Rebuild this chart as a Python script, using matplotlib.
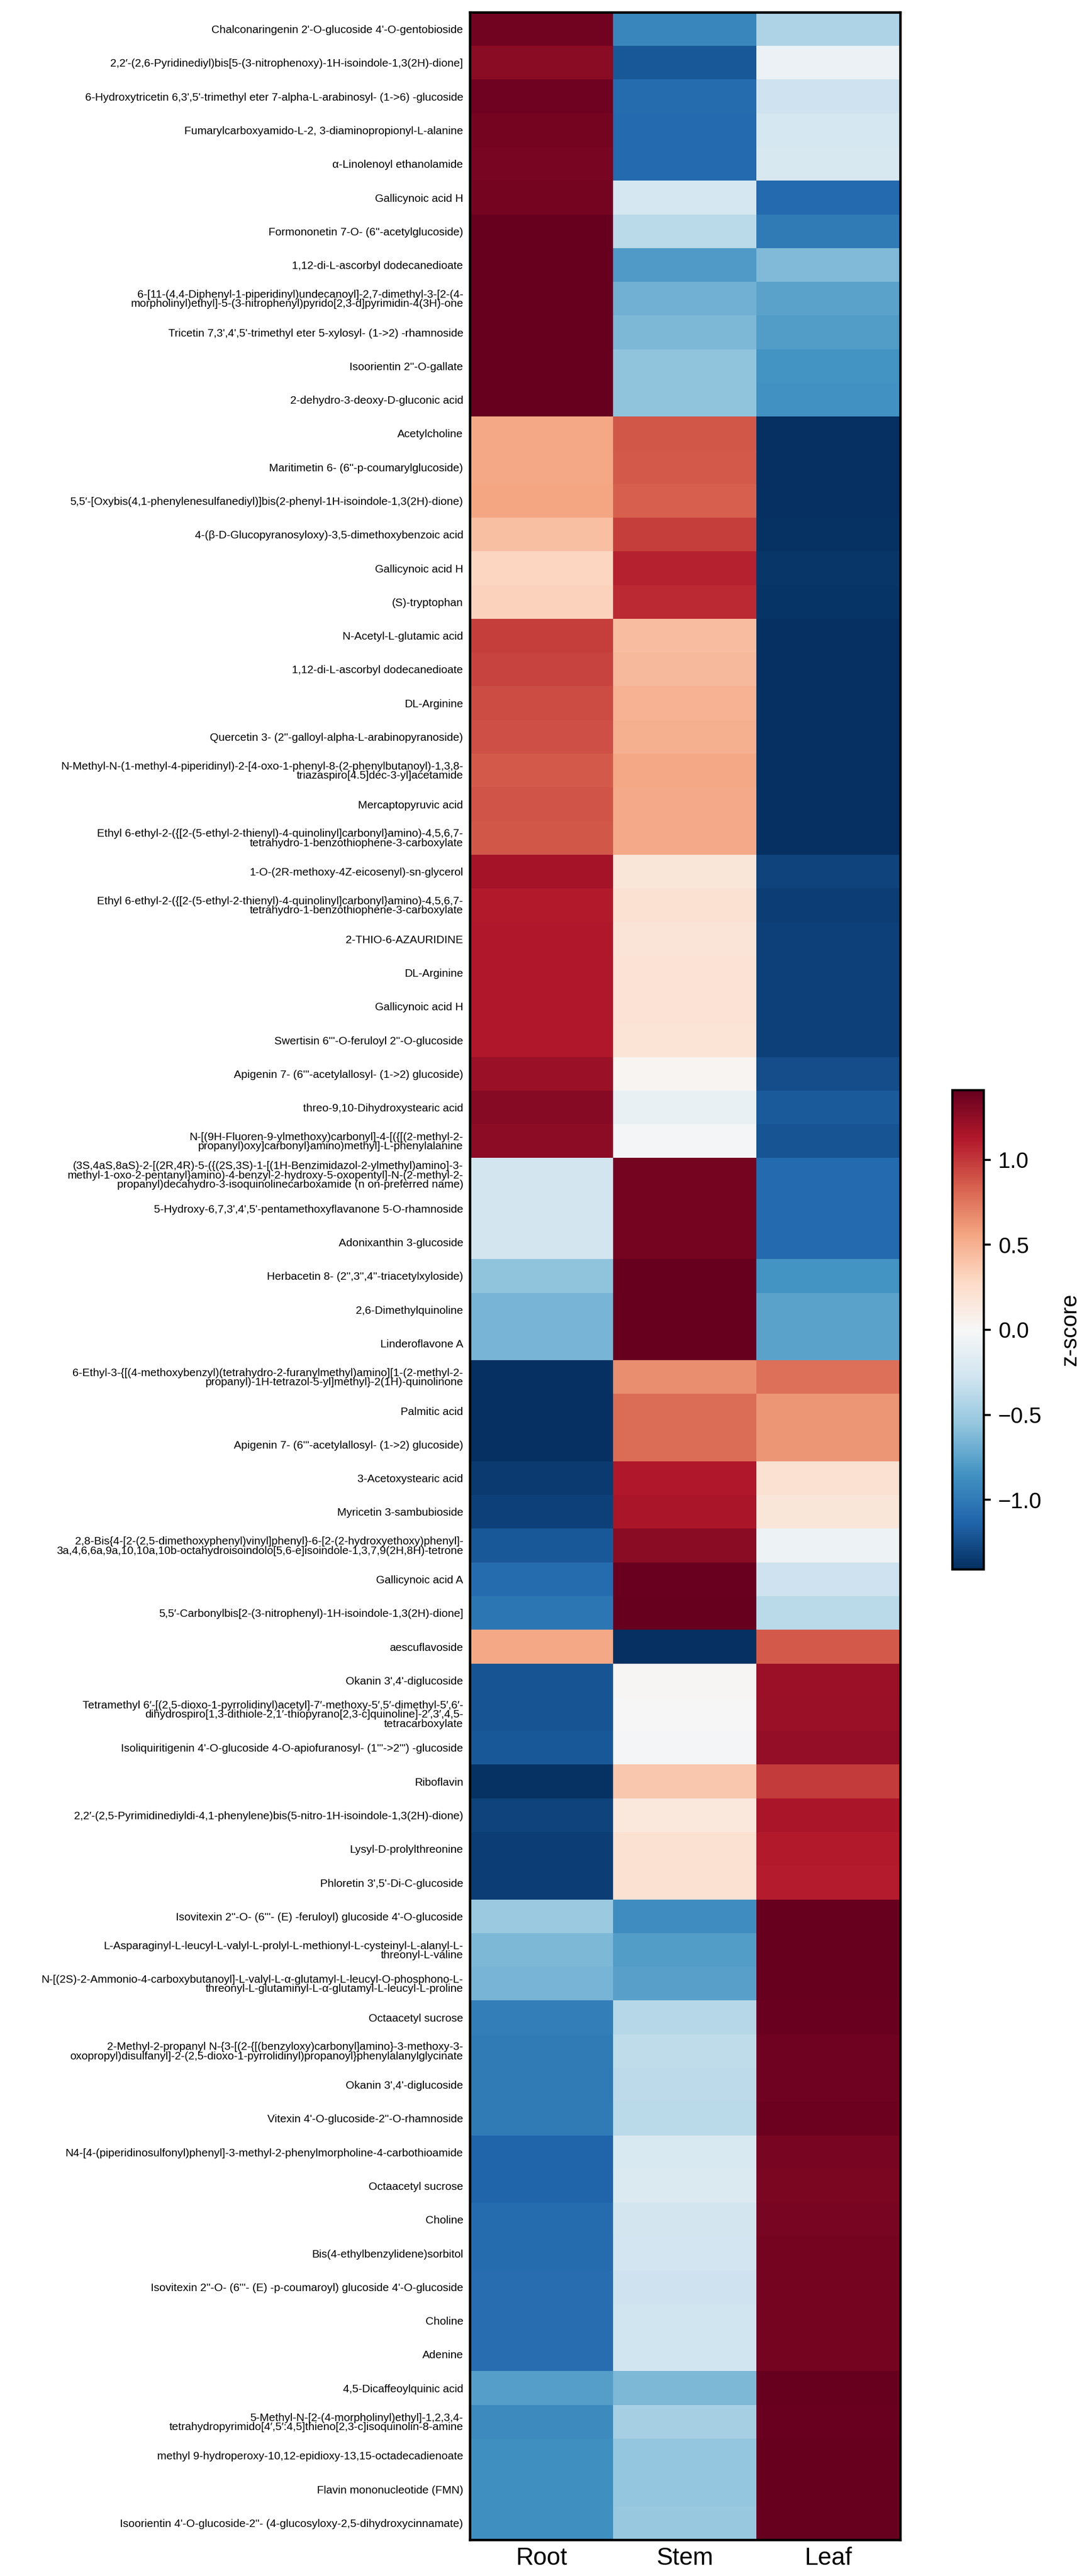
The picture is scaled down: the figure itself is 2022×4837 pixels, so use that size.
import numpy as np
import matplotlib
matplotlib.use('Agg')
import matplotlib.pyplot as plt

plt.rcParams['font.family'] = ['Liberation Sans', 'DejaVu Sans']

# column names of the heatmap
tissues = ['Root', 'Stem', 'Leaf']

# metabolite names, top to bottom
metabolites = [
    "Chalconaringenin 2'-O-glucoside 4'-O-gentobioside",
    "2,2\u2032-(2,6-Pyridinediyl)bis[5-(3-nitrophenoxy)-1H-isoindole-1,3(2H)-dione]",
    "6-Hydroxytricetin 6,3',5'-trimethyl eter 7-alpha-L-arabinosyl- (1->6) -glucoside",
    "Fumarylcarboxyamido-L-2, 3-diaminopropionyl-L-alanine",
    "\u03b1-Linolenoyl ethanolamide",
    "Gallicynoic acid H",
    "Formononetin 7-O- (6''-acetylglucoside)",
    "1,12-di-L-ascorbyl dodecanedioate",
    "6-[11-(4,4-Diphenyl-1-piperidinyl)undecanoyl]-2,7-dimethyl-3-[2-(4-\nmorpholinyl)ethyl]-5-(3-nitrophenyl)pyrido[2,3-d]pyrimidin-4(3H)-one",
    "Tricetin 7,3',4',5'-trimethyl eter 5-xylosyl- (1->2) -rhamnoside",
    "Isoorientin 2''-O-gallate",
    "2-dehydro-3-deoxy-D-gluconic acid",
    "Acetylcholine",
    "Maritimetin 6- (6''-p-coumarylglucoside)",
    "5,5\u2032-[Oxybis(4,1-phenylenesulfanediyl)]bis(2-phenyl-1H-isoindole-1,3(2H)-dione)",
    "4-(\u03b2-D-Glucopyranosyloxy)-3,5-dimethoxybenzoic acid",
    "Gallicynoic acid H",
    "(S)-tryptophan",
    "N-Acetyl-L-glutamic acid",
    "1,12-di-L-ascorbyl dodecanedioate",
    "DL-Arginine",
    "Quercetin 3- (2''-galloyl-alpha-L-arabinopyranoside)",
    "N-Methyl-N-(1-methyl-4-piperidinyl)-2-[4-oxo-1-phenyl-8-(2-phenylbutanoyl)-1,3,8-\ntriazaspiro[4.5]dec-3-yl]acetamide",
    "Mercaptopyruvic acid",
    "Ethyl 6-ethyl-2-({[2-(5-ethyl-2-thienyl)-4-quinolinyl]carbonyl}amino)-4,5,6,7-\ntetrahydro-1-benzothiophene-3-carboxylate",
    "1-O-(2R-methoxy-4Z-eicosenyl)-sn-glycerol",
    "Ethyl 6-ethyl-2-({[2-(5-ethyl-2-thienyl)-4-quinolinyl]carbonyl}amino)-4,5,6,7-\ntetrahydro-1-benzothiophene-3-carboxylate",
    "2-THIO-6-AZAURIDINE",
    "DL-Arginine",
    "Gallicynoic acid H",
    "Swertisin 6'''-O-feruloyl 2''-O-glucoside",
    "Apigenin 7- (6'''-acetylallosyl- (1->2) glucoside)",
    "threo-9,10-Dihydroxystearic acid",
    "N-[(9H-Fluoren-9-ylmethoxy)carbonyl]-4-[({[(2-methyl-2-\npropanyl)oxy]carbonyl}amino)methyl]-L-phenylalanine",
    "(3S,4aS,8aS)-2-[(2R,4R)-5-({(2S,3S)-1-[(1H-Benzimidazol-2-ylmethyl)amino]-3-\nmethyl-1-oxo-2-pentanyl}amino)-4-benzyl-2-hydroxy-5-oxopentyl]-N-(2-methyl-2-\npropanyl)decahydro-3-isoquinolinecarboxamide (n on-preferred name)",
    "5-Hydroxy-6,7,3',4',5'-pentamethoxyflavanone 5-O-rhamnoside",
    "Adonixanthin 3-glucoside",
    "Herbacetin 8- (2'',3'',4''-triacetylxyloside)",
    "2,6-Dimethylquinoline",
    "Linderoflavone A",
    "6-Ethyl-3-{[(4-methoxybenzyl)(tetrahydro-2-furanylmethyl)amino][1-(2-methyl-2-\npropanyl)-1H-tetrazol-5-yl]methyl}-2(1H)-quinolinone",
    "Palmitic acid",
    "Apigenin 7- (6'''-acetylallosyl- (1->2) glucoside)",
    "3-Acetoxystearic acid",
    "Myricetin 3-sambubioside",
    "2,8-Bis{4-[2-(2,5-dimethoxyphenyl)vinyl]phenyl}-6-[2-(2-hydroxyethoxy)phenyl]-\n3a,4,6,6a,9a,10,10a,10b-octahydroisoindolo[5,6-e]isoindole-1,3,7,9(2H,8H)-tetrone",
    "Gallicynoic acid A",
    "5,5\u2032-Carbonylbis[2-(3-nitrophenyl)-1H-isoindole-1,3(2H)-dione]",
    "aescuflavoside",
    "Okanin 3',4'-diglucoside",
    "Tetramethyl 6\u2032-[(2,5-dioxo-1-pyrrolidinyl)acetyl]-7\u2032-methoxy-5\u2032,5\u2032-dimethyl-5\u2032,6\u2032-\ndihydrospiro[1,3-dithiole-2,1\u2032-thiopyrano[2,3-c]quinoline]-2\u2032,3\u2032,4,5-\ntetracarboxylate",
    "Isoliquiritigenin 4'-O-glucoside 4-O-apiofuranosyl- (1'''->2''') -glucoside",
    "Riboflavin",
    "2,2\u2032-(2,5-Pyrimidinediyldi-4,1-phenylene)bis(5-nitro-1H-isoindole-1,3(2H)-dione)",
    "Lysyl-D-prolylthreonine",
    "Phloretin 3',5'-Di-C-glucoside",
    "Isovitexin 2''-O- (6'''- (E) -feruloyl) glucoside 4'-O-glucoside",
    "L-Asparaginyl-L-leucyl-L-valyl-L-prolyl-L-methionyl-L-cysteinyl-L-alanyl-L-\nthreonyl-L-valine",
    "N-[(2S)-2-Ammonio-4-carboxybutanoyl]-L-valyl-L-\u03b1-glutamyl-L-leucyl-O-phosphono-L-\nthreonyl-L-glutaminyl-L-\u03b1-glutamyl-L-leucyl-L-proline",
    "Octaacetyl sucrose",
    "2-Methyl-2-propanyl N-{3-[(2-{[(benzyloxy)carbonyl]amino}-3-methoxy-3-\noxopropyl)disulfanyl]-2-(2,5-dioxo-1-pyrrolidinyl)propanoyl}phenylalanylglycinate",
    "Okanin 3',4'-diglucoside",
    "Vitexin 4'-O-glucoside-2''-O-rhamnoside",
    "N4-[4-(piperidinosulfonyl)phenyl]-3-methyl-2-phenylmorpholine-4-carbothioamide",
    "Octaacetyl sucrose",
    "Choline",
    "Bis(4-ethylbenzylidene)sorbitol",
    "Isovitexin 2''-O- (6'''- (E) -p-coumaroyl) glucoside 4'-O-glucoside",
    "Choline",
    "Adenine",
    "4,5-Dicaffeoylquinic acid",
    "5-Methyl-N-[2-(4-morpholinyl)ethyl]-1,2,3,4-\ntetrahydropyrimido[4\u2032,5\u2032:4,5]thieno[2,3-c]isoquinolin-8-amine",
    "methyl 9-hydroperoxy-10,12-epidioxy-13,15-octadecadienoate",
    "Flavin mononucleotide (FMN)",
    "Isoorientin 4'-O-glucoside-2''- (4-glucosyloxy-2,5-dihydroxycinnamate)",
]

# z-scores, one list per tissue
root = [1.36, 1.27, 1.37, 1.35, 1.34, 1.35, 1.40, 1.41, 1.41, 1.41,
        1.41, 1.41, 0.54, 0.55, 0.56, 0.42, 0.30, 0.33, 0.98, 0.95,
        0.92, 0.91, 0.87, 0.89, 0.88, 1.17, 1.12, 1.13, 1.13, 1.13,
        1.13, 1.22, 1.28, 1.26, -0.26, -0.26, -0.26, -0.57, -0.65, -0.65,
        -1.41, -1.41, -1.41, -1.35, -1.32, -1.19, -1.08, -1.02, 0.55, -1.22,
        -1.22, -1.20, -1.39, -1.30, -1.33, -1.33, -0.52, -0.63, -0.65, -0.98,
        -1.00, -1.00, -1.00, -1.13, -1.13, -1.08, -1.08, -1.07, -1.07, -1.07,
        -0.78, -0.90, -0.86, -0.86, -0.86]
stem = [-0.92, -1.20, -1.08, -1.10, -1.10, -0.25, -0.38, -0.80, -0.68, -0.63,
        -0.57, -0.57, 0.88, 0.86, 0.84, 0.98, 1.08, 1.05, 0.43, 0.46,
        0.49, 0.50, 0.55, 0.53, 0.53, 0.17, 0.22, 0.18, 0.20, 0.20,
        0.19, 0.03, -0.10, -0.03, 1.35, 1.35, 1.35, 1.41, 1.41, 1.41,
        0.66, 0.79, 0.79, 1.13, 1.15, 1.27, 1.39, 1.40, -1.41, 0.02,
        0.00, -0.02, 0.38, 0.15, 0.22, 0.22, -0.88, -0.79, -0.77, -0.40,
        -0.36, -0.37, -0.38, -0.21, -0.20, -0.26, -0.27, -0.29, -0.28, -0.28,
        -0.63, -0.47, -0.54, -0.54, -0.53]
leaf = [-0.44, -0.08, -0.29, -0.25, -0.23, -1.10, -1.00, -0.62, -0.75, -0.79,
        -0.84, -0.85, -1.41, -1.41, -1.40, -1.39, -1.37, -1.38, -1.41, -1.41,
        -1.41, -1.41, -1.41, -1.41, -1.41, -1.30, -1.33, -1.32, -1.32, -1.32,
        -1.32, -1.25, -1.18, -1.22, -1.10, -1.10, -1.10, -0.84, -0.76, -0.76,
        0.78, 0.62, 0.62, 0.22, 0.17, -0.07, -0.29, -0.38, 0.86, 1.21,
        1.22, 1.24, 0.99, 1.15, 1.12, 1.11, 1.41, 1.41, 1.41, 1.39,
        1.37, 1.37, 1.38, 1.34, 1.33, 1.34, 1.35, 1.35, 1.35, 1.35,
        1.41, 1.39, 1.41, 1.41, 1.41]

z = np.column_stack([root, stem, leaf])

W, H = 2022, 4837
fig = plt.figure(figsize=(W / 300, H / 300), dpi=300)

ax = fig.add_axes([882 / W, 1 - 4769 / H, (1690 - 882) / W, (4769 - 23) / H])
im = ax.imshow(z, cmap='RdBu_r', vmin=-1.41, vmax=1.41, aspect='auto',
               interpolation='nearest')

ax.set_xticks(range(len(tissues)))
ax.set_xticklabels(tissues, fontsize=11)
ax.set_yticks(range(len(metabolites)))
ax.set_yticklabels(metabolites, fontsize=5, linespacing=0.9)
ax.tick_params(axis='both', length=0)
ax.tick_params(axis='y', pad=3)
ax.tick_params(axis='x', pad=3)
for s in ax.spines.values():
    s.set_linewidth(1.1)

# colorbar
cax = fig.add_axes([1788 / W, 1 - 2947 / H, (1847 - 1788) / W, (2947 - 2047) / H])
cb = fig.colorbar(im, cax=cax, ticks=[-1.0, -0.5, 0.0, 0.5, 1.0])
cb.outline.set_linewidth(1.0)
cb.ax.tick_params(labelsize=10, length=3, width=0.9, direction='out')
cb.set_label('z-score', fontsize=10, labelpad=8)

fig.savefig('out.png', dpi=300)
